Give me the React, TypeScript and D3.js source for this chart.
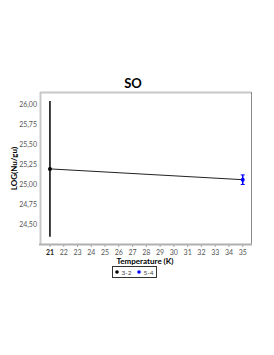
import React, { useRef, useEffect } from 'react';
import * as d3 from 'd3';

const title = 'SO';
const xTicks = [21, 22, 23, 24, 25, 26, 27, 28, 29, 30, 31, 32, 33, 34, 35];
const yTicks = [24.5, 24.75, 25.0, 25.25, 25.5, 25.75, 26.0];
const lineTemps = [21, 35];
const lineValues = [25.2, 25.065];
const seriesNames = ['3-2', '5-4'];
const seriesColors = ['#000000', '#0000ff'];
const pointTemps = [21, 35];
const pointValues = [25.2, 25.065];
const pointErrors = [0.85, 0.06];

const App = () => {
  const svgRef = useRef<SVGSVGElement>(null);

  useEffect(() => {
    const svg = d3.select(svgRef.current);
    svg.selectAll('*').remove();

    const width = 274;
    const height = 355;
    const left = 41;
    const right = 251;
    const top = 93;
    const bottom = 244;

    const x = d3.scaleLinear().domain([20.35, 35.6]).range([left, right]);
    const y = d3.scaleLinear().domain([24.26, 26.15]).range([bottom, top]);
    const fmt = (v: number) => d3.format('.2f')(v).replace('.', ',');

    svg.attr('width', width).attr('height', height);
    svg.append('rect').attr('width', width).attr('height', height).attr('fill', '#fff');

    // title
    svg.append('text')
      .attr('x', 133).attr('y', 88)
      .attr('text-anchor', 'middle')
      .attr('font-family', 'Lato, sans-serif')
      .attr('font-weight', 'bold')
      .attr('font-size', 13)
      .text(title);

    // plot frame
    svg.append('line').attr('x1', left - 1).attr('x2', right).attr('y1', top - 0.5).attr('y2', top - 0.5)
      .attr('stroke', '#c8c8c8').attr('stroke-width', 2);
    svg.append('line').attr('x1', left - 0.5).attr('x2', left - 0.5).attr('y1', top - 1).attr('y2', bottom + 1)
      .attr('stroke', '#c8c8c8').attr('stroke-width', 2);
    svg.append('line').attr('x1', right + 0.5).attr('x2', right + 0.5).attr('y1', top - 1).attr('y2', bottom + 1)
      .attr('stroke', '#8a8a8a').attr('stroke-width', 1);
    svg.append('line').attr('x1', left - 2).attr('x2', right + 1).attr('y1', bottom + 0.5).attr('y2', bottom + 0.5)
      .attr('stroke', '#b0b0b0').attr('stroke-width', 2);

    // y axis labels
    svg.append('g')
      .selectAll('text')
      .data(yTicks)
      .join('text')
      .attr('x', 37)
      .attr('y', d => y(d) + 2.5)
      .attr('text-anchor', 'end')
      .attr('font-family', 'Lato, sans-serif')
      .attr('font-size', 7)
      .attr('fill', '#555')
      .text(d => fmt(d));

    // x axis ticks and labels
    const xg = svg.append('g');
    xg.selectAll('line')
      .data(xTicks)
      .join('line')
      .attr('x1', d => x(d)).attr('x2', d => x(d))
      .attr('y1', bottom + 1).attr('y2', bottom + 3)
      .attr('stroke', '#aaa');
    xg.selectAll('text')
      .data(xTicks)
      .join('text')
      .attr('x', d => x(d))
      .attr('y', 255)
      .attr('text-anchor', 'middle')
      .attr('font-family', 'Lato, sans-serif')
      .attr('font-size', 7)
      .attr('font-weight', (d, i) => (i === 0 ? 'bold' : 'normal'))
      .attr('fill', (d, i) => (i === 0 ? '#222' : '#555'))
      .text(d => d);

    // axis titles
    svg.append('text')
      .attr('x', 145).attr('y', 264)
      .attr('text-anchor', 'middle')
      .attr('font-family', 'Lato, sans-serif')
      .attr('font-weight', 'bold')
      .attr('font-size', 8)
      .text('Temperature (K)');
    svg.append('text')
      .attr('transform', `translate(17,${(top + bottom) / 2}) rotate(-90)`)
      .attr('text-anchor', 'middle')
      .attr('font-family', 'Lato, sans-serif')
      .attr('font-weight', 'bold')
      .attr('font-size', 8)
      .text('LOG(Nu/gu)');

    // connecting line
    const line = d3.line<number>()
      .x((d, i) => x(lineTemps[i]))
      .y(d => y(d));
    svg.append('path')
      .datum(lineValues)
      .attr('fill', 'none')
      .attr('stroke', '#222')
      .attr('stroke-width', 1)
      .attr('d', line);

    // points with error bars
    pointTemps.forEach((t, i) => {
      const c = seriesColors[i];
      svg.append('line')
        .attr('x1', x(t)).attr('x2', x(t))
        .attr('y1', y(pointValues[i] + pointErrors[i]))
        .attr('y2', y(pointValues[i] - pointErrors[i]))
        .attr('stroke', c).attr('stroke-width', 1.5);
      if (i === 1) {
        [1, -1].forEach(s => {
          svg.append('line')
            .attr('x1', x(t) - 2).attr('x2', x(t) + 2)
            .attr('y1', y(pointValues[i] + s * pointErrors[i]))
            .attr('y2', y(pointValues[i] + s * pointErrors[i]))
            .attr('stroke', c).attr('stroke-width', 1);
        });
      }
      svg.append('circle')
        .attr('cx', x(t)).attr('cy', y(pointValues[i]))
        .attr('r', 2)
        .attr('fill', c);
    });

    // legend
    const lg = svg.append('g').attr('transform', 'translate(112,266)');
    lg.append('rect').attr('x', 0.5).attr('y', 0.5).attr('width', 44).attr('height', 11)
      .attr('fill', '#fff').attr('stroke', '#333');
    seriesNames.forEach((name, i) => {
      const gx = 5 + i * 22;
      lg.append('circle').attr('cx', gx).attr('cy', 6).attr('r', 1.8).attr('fill', seriesColors[i]);
      lg.append('text')
        .attr('x', gx + 4.5).attr('y', 8.5)
        .attr('font-family', 'Lato, sans-serif')
        .attr('font-size', 6.5)
        .attr('fill', '#444')
        .text(name);
    });
  }, []);

  return <svg ref={svgRef} style={{ position: 'absolute', left: 0, top: 0 }} />;
};

export default App;
